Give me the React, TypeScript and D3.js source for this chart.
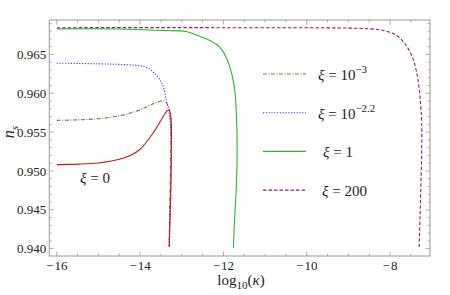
import React, { useEffect, useRef } from 'react';
import * as d3 from 'd3';

type Pt = [number, number];

// n_s against log10(kappa), one array per xi value
const xi0: Pt[] = [
  [-16, 0.95082], [-15.5, 0.95088], [-15, 0.95103], [-14.5, 0.9515], [-14.2, 0.9521],
  [-14, 0.9528], [-13.85, 0.9537], [-13.7, 0.9548], [-13.58, 0.9558], [-13.48, 0.9567],
  [-13.4, 0.9574], [-13.34, 0.9578], [-13.3, 0.9578], [-13.27, 0.9573], [-13.25, 0.9562],
  [-13.25, 0.953], [-13.26, 0.948], [-13.28, 0.944], [-13.3, 0.9402],
];
const xiM3: Pt[] = [
  [-16, 0.95652], [-15.5, 0.95658], [-15, 0.95673], [-14.5, 0.9571], [-14.16, 0.95758],
  [-13.9, 0.9581], [-13.68, 0.95866], [-13.5, 0.959], [-13.42, 0.959], [-13.36, 0.9587],
  [-13.31, 0.9581], [-13.27, 0.957], [-13.26, 0.955], [-13.27, 0.95], [-13.29, 0.945],
  [-13.3, 0.9402],
];
const xiM22: Pt[] = [
  [-16, 0.96388], [-15, 0.9638], [-14.5, 0.96372], [-14, 0.96355], [-13.8, 0.9632],
  [-13.6, 0.9623], [-13.5, 0.9615], [-13.44, 0.9608], [-13.37, 0.95909], [-13.3, 0.95738],
  [-13.26, 0.9548], [-13.26, 0.95], [-13.28, 0.945], [-13.31, 0.9402],
];
const xi1: Pt[] = [
  [-16, 0.9683], [-14.5, 0.96828], [-13.5, 0.9681], [-12.9, 0.96795], [-12.6, 0.9674],
  [-12.4, 0.967], [-12.2, 0.9664], [-12.08, 0.9659], [-11.95, 0.9648], [-11.84, 0.9633],
  [-11.76, 0.9615], [-11.72, 0.96], [-11.69, 0.9575], [-11.67, 0.953], [-11.69, 0.948],
  [-11.73, 0.944], [-11.76, 0.9401],
];
const xi200: Pt[] = [
  [-16, 0.96845], [-12, 0.96845], [-9, 0.9684], [-8.48, 0.9683], [-8.16, 0.96809],
  [-7.84, 0.96744], [-7.64, 0.96638], [-7.48, 0.96487], [-7.38, 0.96316], [-7.32, 0.96144],
  [-7.27, 0.95887], [-7.24, 0.9563], [-7.24, 0.952], [-7.26, 0.948], [-7.28, 0.944],
  [-7.3, 0.9402],
];

const xTicks = [-16, -14, -12, -10, -8];
const yTicks = [0.94, 0.945, 0.95, 0.955, 0.96, 0.965];

const series = [
  { data: xiM3, color: '#94683c', dash: '4,1.5,1,1.5', sup: '−3', base: '10', tx: 318 },
  { data: xiM22, color: '#3a3af0', dash: '1.2,1.6', sup: '−2.2', base: '10', tx: 318 },
  { data: xi1, color: '#2fb52f', dash: '', sup: '', base: '1', tx: 323 },
  { data: xi200, color: '#862286', dash: '3.5,2', sup: '', base: '200', tx: 322 },
  { data: xi0, color: '#c41a1a', dash: '', sup: '', base: '', tx: 0 },
];

const W = 450;
const H = 295;

export default function App() {
  const svgRef = useRef<SVGSVGElement>(null);

  useEffect(() => {
    if (!svgRef.current) return;
    const svg = d3.select(svgRef.current);
    svg.selectAll('*').remove();

    const left = 49.3, right = 430, top = 20, bottom = 256;
    const x = d3.scaleLinear().domain([-16.18, -7.04]).range([left, right]);
    const y = d3.scaleLinear().domain([0.93905, 0.96944]).range([bottom, top]);
    const serif = 'Liberation Serif, DejaVu Serif, serif';
    const frame = '#9a9a9a';

    // curves
    const line = d3.line<Pt>()
      .x(d => x(d[0]))
      .y(d => y(d[1]))
      .curve(d3.curveCatmullRom.alpha(0.5));

    const g = svg.append('g');
    series.forEach(s => {
      g.append('path')
        .attr('d', line(s.data))
        .attr('fill', 'none')
        .attr('stroke', s.color)
        .attr('stroke-width', 1.1)
        .attr('stroke-dasharray', s.dash || null);
    });

    // frame with inward ticks on all sides
    svg.append('rect')
      .attr('x', left).attr('y', top)
      .attr('width', right - left).attr('height', bottom - top)
      .attr('fill', 'none').attr('stroke', frame).attr('stroke-width', 1);

    const ticks = svg.append('g').attr('stroke', frame).attr('stroke-width', 0.8);
    const xMinor = d3.range(-16, -7.01, 0.5);
    xMinor.forEach(v => {
      const len = Math.abs(v % 2) < 1e-9 ? 4.5 : 2.5;
      ticks.append('line').attr('x1', x(v)).attr('x2', x(v)).attr('y1', bottom).attr('y2', bottom - len);
      ticks.append('line').attr('x1', x(v)).attr('x2', x(v)).attr('y1', top).attr('y2', top + len);
    });
    const yMinor = d3.range(0, 30).map(i => 0.94 + i * 0.001);
    yMinor.forEach((v, i) => {
      const len = i % 5 === 0 ? 4.5 : 2.5;
      ticks.append('line').attr('x1', left).attr('x2', left + len).attr('y1', y(v)).attr('y2', y(v));
      ticks.append('line').attr('x1', right).attr('x2', right - len).attr('y1', y(v)).attr('y2', y(v));
    });

    // tick labels
    svg.append('g').selectAll('text').data(xTicks).enter().append('text')
      .attr('x', d => x(d))
      .attr('y', 270)
      .attr('text-anchor', 'middle')
      .attr('font-family', serif)
      .attr('font-size', 13)
      .attr('fill', '#222')
      .text(d => `\u2212\u200A${Math.abs(d)}`);

    svg.append('g').selectAll('text').data(yTicks).enter().append('text')
      .attr('x', left - 3)
      .attr('y', d => y(d))
      .attr('dy', '0.35em')
      .attr('text-anchor', 'end')
      .attr('font-family', serif)
      .attr('font-size', 13)
      .attr('fill', '#222')
      .text(d => d.toFixed(3));

    // axis titles
    const xl = svg.append('text')
      .attr('x', 241).attr('y', 285)
      .attr('text-anchor', 'middle')
      .attr('font-family', serif).attr('font-size', 15).attr('fill', '#222');
    xl.append('tspan').text('log');
    xl.append('tspan').attr('dy', 4).attr('font-size', 11).text('10');
    xl.append('tspan').attr('dy', -4).text('(');
    xl.append('tspan').attr('font-style', 'italic').text('κ');
    xl.append('tspan').text(')');

    const yl = svg.append('text')
      .attr('transform', `translate(14,132) rotate(-90)`)
      .attr('text-anchor', 'middle')
      .attr('font-family', serif).attr('font-size', 16).attr('fill', '#222');
    yl.append('tspan').attr('font-style', 'italic').text('n');
    yl.append('tspan').attr('dy', 4).attr('font-size', 11).attr('font-style', 'italic').text('s');

    // legend
    const leg = series.filter(s => s.base);
    leg.forEach((s, i) => {
      const ly = 74 + i * 38.7;
      svg.append('line')
        .attr('x1', 263).attr('x2', 306).attr('y1', ly).attr('y2', ly)
        .attr('stroke', s.color).attr('stroke-width', 1.1)
        .attr('stroke-dasharray', s.dash || null);
      const t = svg.append('text')
        .attr('x', s.tx).attr('y', ly + 6)
        .attr('font-family', serif).attr('font-size', 15).attr('fill', '#222');
      t.append('tspan').attr('font-style', 'italic').text('ξ');
      t.append('tspan').text(` = ${s.base}`);
      if (s.sup) t.append('tspan').attr('dy', -7).attr('font-size', 11).text(s.sup);
    });

    // annotation for xi = 0
    const a = svg.append('text')
      .attr('x', 80).attr('y', 183)
      .attr('font-family', serif).attr('font-size', 15).attr('fill', '#222');
    a.append('tspan').attr('font-style', 'italic').text('ξ');
    a.append('tspan').text(' = 0');
  }, []);

  return (
    <svg
      ref={svgRef}
      width={W}
      height={H}
      style={{ position: 'absolute', left: 0, top: 0, background: '#fff' }}
    />
  );
}
